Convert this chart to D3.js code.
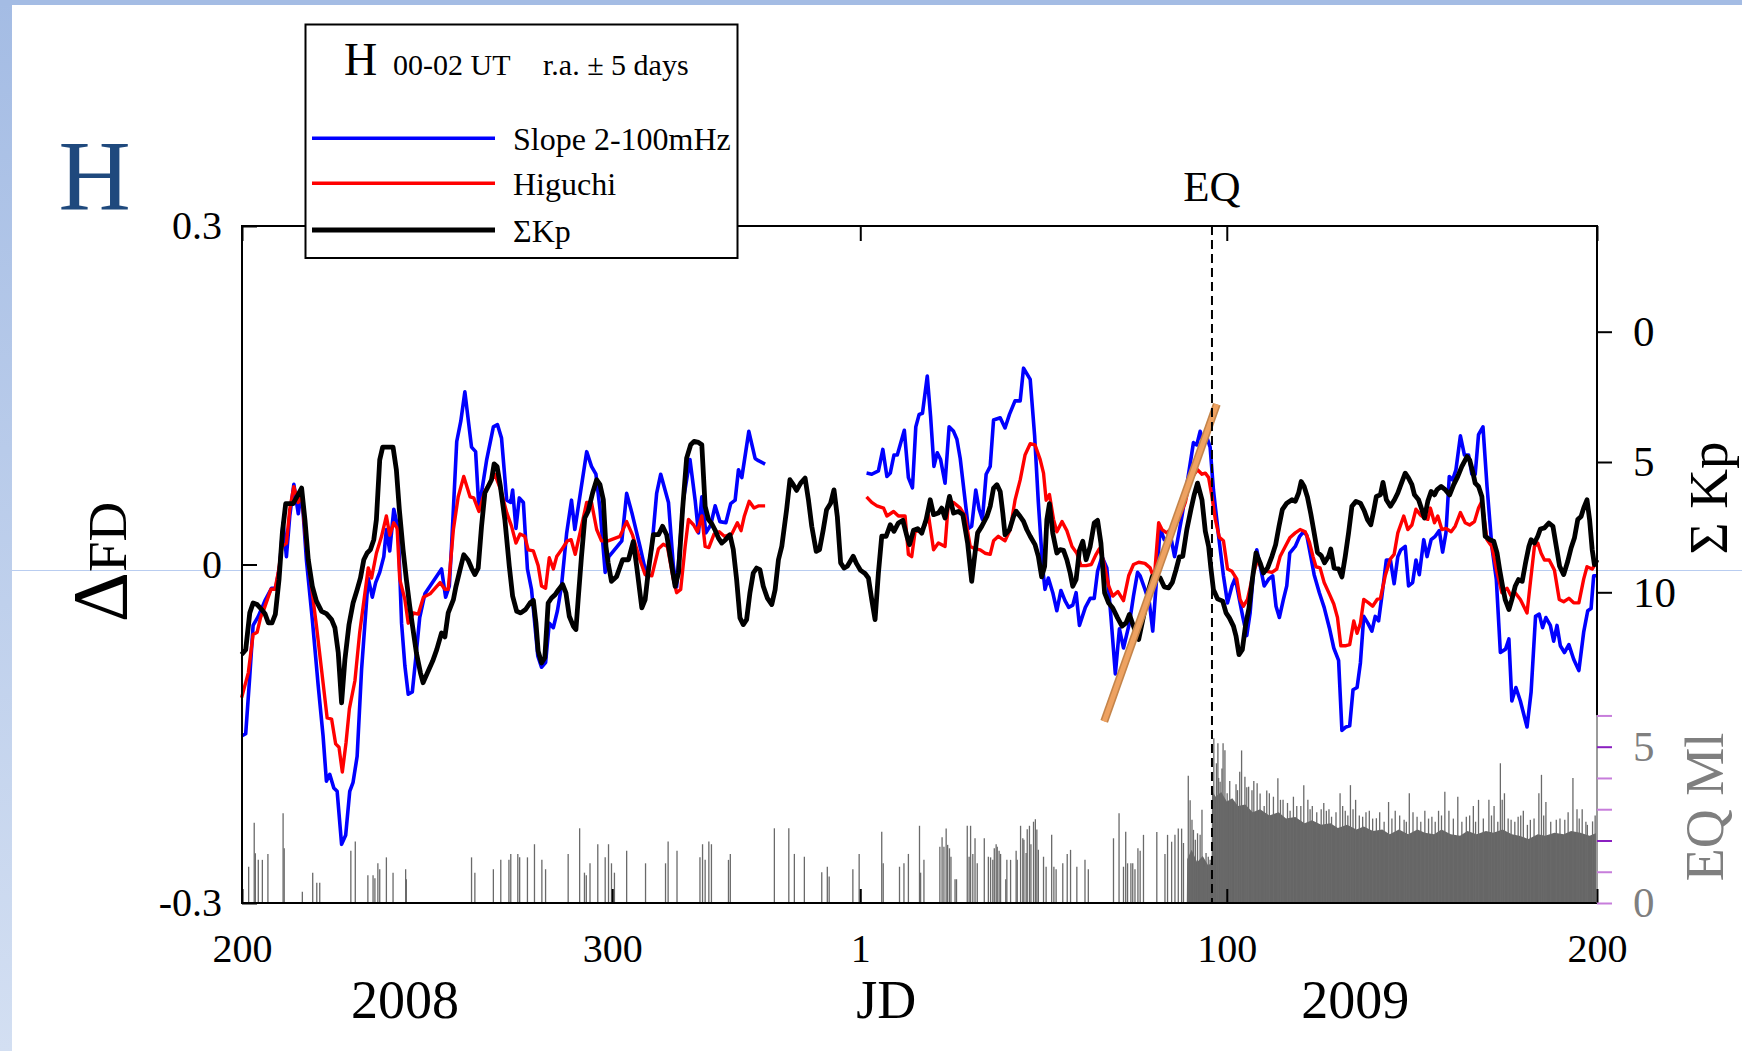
<!DOCTYPE html>
<html>
<head>
<meta charset="utf-8">
<script src="https://cdn.jsdelivr.net/npm/d3@7"></script>
<style>
  html, body { margin: 0; padding: 0; background: #fff; }
  svg { display: block; }
</style>
</head>
<body>
<script>
// day index counted from 1 Jan 2008 (leap year, so 2009 day d = 366 + d)
const xTickDays = [200, 300, 367, 466, 566];
const xTickLabels = ["200", "300", "1", "100", "200"];
const fdTicks = [0.3, 0, -0.3];
const kpTicks = [0, 5, 10];
const mlTicks = [0, 1, 2, 3, 4, 5, 6];
const eqDay = 462;

// Slope 2-100mHz (blue), ΔFD
const slope = [[199.9,-0.152],[201.0,-0.150],[202.1,-0.099],[203.0,-0.054],[204.4,-0.046],[206.2,-0.032],[208.0,-0.021],[209.1,-0.021],[210.2,-0.001],[211.1,0.037],[212.0,0.007],[212.9,0.043],[214.0,0.071],[215.2,0.045],[216.1,0.065],[217.4,0.004],[219.0,-0.049],[220.6,-0.108],[221.9,-0.152],[222.8,-0.192],[223.7,-0.186],[224.8,-0.198],[225.7,-0.201],[226.9,-0.248],[228.0,-0.240],[229.1,-0.201],[230.0,-0.193],[231.1,-0.170],[232.3,-0.093],[234.1,-0.012],[235.2,-0.029],[236.1,-0.016],[237.2,-0.007],[238.3,0.007],[239.0,0.031],[239.9,0.012],[241.0,0.049],[242.2,0.031],[243.1,-0.052],[244.0,-0.090],[244.9,-0.115],[246.0,-0.113],[247.0,-0.081],[248.0,-0.047],[249.4,-0.026],[253.9,-0.004],[255.0,-0.029],[256.0,-0.019],[256.6,0.016],[258.0,0.109],[259.1,0.127],[260.2,0.153],[262.0,0.104],[263.1,0.100],[264.0,0.049],[266.1,0.093],[267.9,0.122],[269.0,0.124],[270.1,0.112],[271.5,0.057],[272.6,0.055],[273.1,0.066],[274.0,0.032],[274.9,0.059],[276.0,0.055],[277.1,-0.004],[278.2,-0.022],[279.9,-0.081],[280.9,-0.091],[282.0,-0.087],[283.0,-0.052],[284.1,-0.056],[285.2,-0.041],[286.3,-0.019],[287.7,0.028],[289.0,0.057],[289.9,0.031],[293.1,0.100],[294.4,0.087],[295.6,0.080],[296.7,0.049],[298.1,-0.007],[299.1,0.007],[302.6,0.021],[303.9,0.063],[305.3,0.046],[307.5,0.016],[309.3,-0.010],[310.7,0.015],[312.0,0.063],[313.1,0.080],[315.2,0.055],[316.5,-0.001],[317.4,-0.020],[319.2,0.057],[321.0,0.093],[322.4,0.057],[323.3,0.028],[324.2,0.060],[325.3,0.028],[326.6,0.035],[327.8,0.052],[329.1,0.038],[330.7,0.037],[332.0,0.054],[333.2,0.057],[334.1,0.084],[335.0,0.077],[336.9,0.118],[338.6,0.094],[339.5,0.092],[341.3,0.089],
  null,
  [368.7,0.081],[370.1,0.080],[371.9,0.083],[373.1,0.102],[374.2,0.078],[375.1,0.081],[376.1,0.097],[377.0,0.097],[378.9,0.119],[380.0,0.077],[381.1,0.068],[382.0,0.122],[382.9,0.133],[383.8,0.134],[385.1,0.167],[386.0,0.131],[386.9,0.087],[387.8,0.099],[388.7,0.093],[389.9,0.072],[391.0,0.122],[392.2,0.118],[393.1,0.111],[394.0,0.094],[396.2,0.032],[397.1,0.034],[398.2,0.066],[399.1,0.049],[400.0,0.040],[401.0,0.080],[402.1,0.087],[403.0,0.128],[404.8,0.130],[406.1,0.121],[407.3,0.133],[408.8,0.145],[410.2,0.145],[411.1,0.174],[412.9,0.164],[414.1,0.114],[415.1,0.055],[416.3,-0.004],[416.9,-0.022],[417.8,-0.012],[419.0,-0.025],[420.1,-0.041],[421.2,-0.023],[422.3,-0.032],[423.3,-0.038],[424.4,-0.036],[425.3,-0.025],[426.2,-0.054],[427.8,-0.038],[429.1,-0.030],[430.2,-0.030],[431.1,-0.006],[432.3,0.007],[433.6,-0.003],[434.7,-0.046],[435.9,-0.097],[437.0,-0.057],[438.1,-0.074],[439.7,-0.052],[440.8,-0.028],[441.9,-0.007],[442.6,-0.010],[443.9,-0.022],[445.1,-0.034],[446.0,-0.059],[446.9,-0.019],[448.0,0.032],[449.1,0.022],[450.9,0.024],[451.9,0.007],[453.9,0.043],[457.0,0.108],[457.9,0.106],[458.8,0.118],[459.7,0.108],[460.6,0.113],[461.5,0.104],[462.4,0.066],[463.8,0.025],[465.1,-0.010],[466.2,-0.034],[467.4,-0.019],[468.3,-0.012],[469.4,-0.031],[470.3,-0.046],[471.4,-0.063],[472.3,-0.043],[473.2,-0.007],[474.1,0.013],[475.0,-0.001],[476.1,-0.019],[477.3,-0.013],[478.4,-0.010],[479.3,-0.037],[480.2,-0.047],[481.3,-0.031],[482.2,-0.019],[483.0,0.010],[484.5,0.016],[485.7,0.025],[486.7,0.029],[487.6,0.026],[488.7,0.007],[489.6,-0.009],[491.0,-0.025],[492.3,-0.038],[493.7,-0.056],[494.9,-0.074],[496.2,-0.085],[497.1,-0.147],[498.2,-0.144],[499.2,-0.143],[500.1,-0.111],[501.2,-0.109],[502.1,-0.087],[503.0,-0.046],[504.1,-0.052],[505.2,-0.059],[506.1,-0.046],[507.0,-0.050],[507.9,-0.028],[509.1,0.004],[510.2,0.004],[511.2,-0.017],[512.2,0.007],[513.0,0.013],[514.2,0.016],[515.1,-0.019],[516.2,-0.016],[517.1,0.004],[518.0,-0.009],[519.2,0.022],[520.1,0.007],[521.2,0.022],[522.3,0.025],[523.4,0.030],[524.3,0.011],[525.2,0.028],[526.1,0.078],[527.0,0.075],[527.9,0.084],[529.1,0.114],[530.2,0.097],[531.3,0.097],[532.2,0.080],[533.1,0.080],[534.0,0.115],[535.2,0.122],[536.3,0.069],[537.6,0.016],[538.8,-0.013],[539.9,-0.078],[541.3,-0.075],[542.2,-0.066],[543.0,-0.121],[544.1,-0.109],[545.3,-0.121],[547.1,-0.144],[548.2,-0.113],[549.4,-0.046],[550.4,-0.044],[551.3,-0.056],[552.2,-0.047],[553.4,-0.054],[554.3,-0.068],[555.2,-0.054],[556.1,-0.072],[557.2,-0.078],[558.4,-0.071],[559.7,-0.084],[561.1,-0.094],[562.4,-0.060],[563.5,-0.041],[564.4,-0.039],[565.1,-0.010],[566.0,-0.010]];

// Higuchi (red), ΔFD
const higuchi = [[199.9,-0.118],[201.7,-0.096],[203.0,-0.062],[204.1,-0.060],[205.0,-0.047],[205.9,-0.040],[207.8,-0.022],[208.9,-0.022],[209.8,-0.007],[210.8,0.016],[212.0,0.019],[212.9,0.049],[214.0,0.069],[215.2,0.055],[216.1,0.062],[217.4,0.016],[220.1,-0.054],[223.0,-0.136],[224.2,-0.137],[225.3,-0.159],[226.2,-0.162],[227.1,-0.184],[228.1,-0.158],[229.0,-0.128],[230.5,-0.103],[231.8,-0.060],[234.1,-0.003],[235.0,-0.012],[236.3,0.010],[237.7,0.025],[239.0,0.043],[239.9,0.026],[241.0,0.037],[241.9,0.032],[242.6,-0.013],[244.0,-0.031],[244.9,-0.052],[246.3,-0.043],[247.6,-0.044],[249.0,-0.029],[250.8,-0.026],[253.5,-0.016],[254.8,-0.022],[255.7,-0.022],[257.1,0.031],[258.4,0.060],[259.9,0.078],[261.6,0.060],[262.6,0.059],[264.0,0.047],[265.6,0.065],[268.3,0.080],[269.9,0.066],[271.5,0.046],[272.8,0.034],[274.0,0.019],[275.1,0.027],[276.4,0.025],[277.3,0.013],[278.7,0.012],[280.0,-0.001],[280.9,-0.019],[282.0,-0.021],[283.0,0.006],[284.1,-0.004],[285.0,0.007],[286.3,0.013],[287.9,0.021],[288.9,0.022],[290.0,0.009],[291.3,0.028],[293.1,0.055],[294.4,0.055],[295.8,0.031],[297.1,0.021],[298.9,0.021],[302.1,0.025],[303.9,0.038],[305.5,0.026],[307.5,0.004],[308.9,-0.009],[310.7,-0.010],[312.5,0.014],[313.8,0.018],[314.9,0.016],[316.5,-0.013],[317.4,-0.025],[318.5,-0.022],[319.7,0.016],[320.6,0.040],[322.0,0.035],[323.0,0.029],[324.2,0.043],[325.1,0.016],[326.1,0.015],[327.5,0.027],[328.9,0.029],[330.3,0.025],[332.3,0.027],[333.8,0.037],[334.8,0.030],[335.7,0.043],[337.0,0.056],[338.3,0.050],[339.6,0.052],[341.3,0.052],
  null,
  [368.7,0.060],[370.1,0.055],[371.5,0.052],[373.3,0.050],[374.2,0.043],[376.0,0.047],[377.3,0.043],[379.1,0.043],[380.0,0.009],[380.9,0.007],[381.8,0.029],[383.6,0.031],[384.5,0.035],[385.4,0.044],[386.8,0.013],[388.1,0.019],[389.9,0.016],[390.8,0.055],[392.2,0.055],[394.0,0.050],[395.3,0.043],[396.7,0.016],[398.0,0.014],[399.4,0.013],[400.7,0.010],[402.1,0.009],[403.0,0.021],[404.3,0.025],[406.1,0.021],[407.5,0.031],[408.8,0.057],[410.2,0.075],[411.5,0.097],[412.9,0.107],[414.2,0.106],[415.6,0.093],[416.5,0.081],[417.2,0.057],[418.1,0.062],[419.2,0.040],[420.1,0.029],[421.5,0.038],[422.8,0.030],[424.2,0.016],[425.5,0.010],[426.6,-0.001],[428.0,-0.001],[429.4,0.000],[430.7,0.009],[431.6,0.014],[432.7,0.003],[434.1,-0.019],[435.2,-0.028],[436.6,-0.024],[438.1,-0.032],[439.5,-0.010],[440.8,0.000],[442.2,0.002],[443.9,0.001],[445.3,-0.003],[446.4,-0.013],[447.6,0.037],[448.5,0.031],[449.8,0.028],[451.6,0.034],[453.0,0.040],[454.8,0.055],[456.1,0.075],[457.2,0.080],[458.1,0.084],[459.3,0.080],[460.2,0.081],[461.1,0.077],[462.0,0.060],[462.9,0.040],[464.0,0.024],[465.1,0.021],[466.2,-0.004],[467.4,-0.006],[468.7,-0.013],[469.6,-0.031],[470.5,-0.037],[471.6,-0.031],[473.0,-0.010],[474.3,0.004],[475.5,-0.004],[476.8,-0.006],[478.2,-0.007],[479.5,-0.004],[480.4,0.007],[481.8,0.016],[483.1,0.024],[484.5,0.028],[485.8,0.031],[487.2,0.029],[488.3,0.020],[489.3,0.007],[490.1,-0.002],[491.2,-0.003],[492.3,-0.016],[493.7,-0.026],[494.9,-0.035],[495.9,-0.047],[496.8,-0.072],[498.2,-0.072],[499.2,-0.071],[500.3,-0.050],[501.2,-0.061],[502.1,-0.052],[503.0,-0.031],[504.3,-0.034],[505.4,-0.037],[506.6,-0.031],[507.5,-0.030],[508.8,-0.010],[510.2,0.005],[511.2,0.009],[512.2,0.028],[513.8,0.043],[514.9,0.031],[516.0,0.035],[517.1,0.049],[518.3,0.044],[519.4,0.041],[520.3,0.040],[521.0,0.050],[522.1,0.037],[523.0,0.043],[524.1,0.031],[525.2,0.032],[526.6,0.029],[527.7,0.034],[529.1,0.046],[530.4,0.037],[531.6,0.035],[532.9,0.038],[534.0,0.050],[534.9,0.056],[536.3,0.022],[537.6,0.016],[539.0,-0.007],[540.3,-0.025],[541.7,-0.021],[542.8,-0.028],[543.9,-0.025],[545.3,-0.031],[547.1,-0.043],[548.0,-0.016],[549.1,0.016],[550.0,0.019],[550.9,0.010],[551.8,0.004],[553.1,0.004],[554.5,-0.005],[555.8,-0.031],[557.0,-0.033],[558.4,-0.030],[559.7,-0.034],[561.1,-0.034],[562.4,-0.013],[563.3,-0.002],[564.7,-0.004],[566.0,0.003]];

// ΣKp (black), right inverted axis
const sumKp = [[199.9,12.39],[201.0,12.20],[202.1,10.79],[203.0,10.41],[204.1,10.47],[205.3,10.66],[206.2,10.82],[207.1,11.17],[208.1,11.17],[209.0,10.85],[210.0,9.51],[210.9,7.72],[211.8,6.60],[213.8,6.60],[214.9,6.32],[216.1,6.00],[217.0,7.22],[217.9,8.75],[219.0,9.77],[220.1,10.34],[221.5,10.73],[222.8,10.82],[224.2,11.05],[225.1,11.36],[226.0,12.32],[226.9,14.24],[227.8,12.58],[228.9,11.24],[230.0,10.41],[231.1,9.90],[232.0,9.45],[232.9,8.75],[233.8,8.49],[234.7,8.36],[235.6,7.98],[236.3,7.21],[237.2,4.92],[238.0,4.43],[240.8,4.43],[241.7,5.30],[242.5,6.83],[243.5,8.36],[244.4,9.51],[245.3,10.53],[246.2,11.43],[247.1,12.32],[248.2,13.09],[248.9,13.47],[250.3,13.02],[251.5,12.64],[252.6,12.20],[253.9,11.56],[254.8,11.71],[255.7,10.79],[257.1,10.28],[257.8,9.77],[258.9,9.13],[259.9,8.56],[261.1,8.77],[262.0,9.07],[262.9,9.32],[263.8,9.07],[264.7,7.47],[265.6,6.19],[266.5,5.94],[267.4,5.68],[268.1,5.07],[268.9,5.17],[269.8,5.94],[271.0,7.21],[272.2,9.00],[273.1,10.15],[274.2,10.73],[275.3,10.79],[276.6,10.66],[277.8,10.41],[278.7,10.31],[279.4,11.17],[280.0,12.26],[280.9,12.71],[281.8,12.51],[282.7,10.41],[283.6,10.22],[284.6,10.09],[285.5,9.90],[286.6,9.70],[287.5,10.02],[288.4,10.92],[289.5,11.30],[290.2,11.43],[290.8,10.28],[291.7,8.62],[292.6,7.15],[293.5,6.89],[294.7,6.19],[295.8,5.68],[296.7,5.87],[297.6,6.45],[298.3,8.24],[298.9,8.87],[299.8,9.58],[301.2,9.39],[302.8,8.75],[304.4,8.75],[305.7,8.05],[306.6,9.00],[308.0,10.60],[308.9,10.28],[309.8,9.13],[311.1,7.79],[312.5,7.79],[313.6,7.47],[314.7,7.79],[315.8,8.75],[317.0,9.77],[317.9,9.26],[319.0,6.83],[320.1,4.85],[321.2,4.34],[322.1,4.21],[323.3,4.25],[324.2,4.34],[325.1,6.70],[326.0,7.21],[326.9,7.37],[327.8,7.62],[328.7,7.92],[329.6,8.11],[330.6,7.98],[331.8,7.79],[332.7,8.36],[333.6,9.51],[334.5,10.98],[335.4,11.24],[336.3,11.05],[337.2,10.02],[338.1,9.26],[339.0,9.07],[339.9,9.13],[340.8,9.77],[341.9,10.22],[343.1,10.47],[344.0,9.90],[344.9,8.75],[345.8,8.24],[347.1,6.83],[348.0,5.68],[348.9,5.87],[349.8,6.09],[350.9,5.81],[352.1,5.62],[353.0,6.45],[353.9,7.47],[355.1,8.43],[356.0,8.36],[357.0,7.60],[357.9,6.83],[359.0,6.58],[359.9,6.07],[360.8,7.09],[361.7,8.87],[362.6,9.07],[363.5,9.00],[365.1,8.62],[366.0,8.90],[367.1,9.16],[368.3,9.28],[369.2,9.45],[370.1,10.28],[371.0,11.05],[371.9,9.26],[372.8,7.85],[374.0,7.85],[375.1,7.41],[376.1,7.66],[377.3,7.34],[378.5,7.24],[379.6,7.85],[380.3,8.17],[381.4,7.62],[382.5,7.56],[383.6,7.73],[384.8,7.21],[385.9,6.45],[386.8,7.02],[388.1,6.96],[389.0,6.77],[389.9,7.15],[391.1,6.32],[392.2,6.96],[393.5,6.90],[394.7,7.02],[396.0,8.11],[397.1,9.58],[398.0,8.49],[398.7,7.72],[399.8,7.47],[401.2,7.09],[402.1,6.70],[403.0,6.00],[403.9,5.87],[404.8,6.13],[405.5,6.96],[406.1,7.79],[407.3,7.60],[408.4,7.09],[409.1,6.89],[410.2,7.09],[411.1,7.28],[412.0,7.60],[412.9,7.85],[414.2,8.17],[415.1,8.62],[416.0,9.41],[416.8,9.00],[417.4,7.21],[418.1,6.60],[419.0,7.73],[420.1,8.49],[421.0,8.36],[421.9,8.39],[422.8,8.75],[423.7,9.26],[424.4,9.77],[425.3,9.51],[426.2,8.39],[427.1,8.04],[428.0,8.75],[429.1,8.24],[430.2,7.34],[431.1,7.24],[432.0,8.11],[433.0,10.02],[434.1,10.41],[435.2,10.60],[436.5,10.98],[437.7,11.30],[438.8,11.17],[439.7,10.85],[440.8,11.30],[442.2,11.81],[443.7,10.79],[444.9,9.90],[445.9,9.39],[446.9,9.45],[448.0,9.45],[449.1,9.79],[450.3,9.83],[451.3,9.62],[452.3,9.13],[453.2,8.64],[454.1,8.62],[455.2,7.60],[456.3,6.83],[457.2,6.26],[458.1,5.81],[459.3,6.45],[460.2,7.66],[461.1,8.24],[461.7,9.07],[462.4,9.90],[463.5,10.25],[464.9,10.34],[465.8,10.79],[466.7,10.98],[467.8,11.30],[468.5,11.68],[469.3,12.39],[470.2,12.20],[471.1,11.24],[472.0,10.60],[472.9,9.51],[473.9,8.49],[475.0,8.87],[475.9,9.26],[477.0,9.07],[478.2,8.62],[479.2,8.17],[480.1,7.47],[481.0,6.83],[482.2,6.58],[483.6,6.45],[484.5,6.51],[485.4,6.19],[486.1,5.75],[486.9,5.94],[487.8,6.35],[488.7,6.99],[489.6,7.72],[490.5,8.47],[491.5,8.59],[492.4,8.87],[493.5,8.62],[494.1,8.34],[495.0,9.07],[496.2,9.10],[497.1,9.41],[498.0,8.62],[498.9,7.72],[499.8,6.70],[500.9,6.51],[502.1,6.58],[503.1,6.86],[504.0,7.21],[504.9,7.41],[505.7,6.86],[506.4,6.32],[507.5,6.26],[508.2,5.78],[509.1,6.45],[510.2,6.70],[511.3,6.45],[512.2,6.19],[513.1,5.84],[514.2,5.43],[515.1,5.62],[516.0,5.87],[516.7,6.26],[517.8,6.45],[518.7,6.83],[519.4,7.15],[520.3,6.51],[521.2,6.13],[522.1,6.26],[522.8,6.06],[523.9,5.94],[525.0,6.06],[526.2,6.26],[527.3,5.87],[528.4,5.55],[529.5,5.17],[530.9,4.79],[531.6,4.92],[532.4,5.36],[533.1,5.81],[534.0,5.94],[534.9,6.32],[535.8,7.85],[537.0,7.98],[538.1,8.04],[539.0,8.49],[539.7,9.13],[540.5,9.77],[541.2,10.28],[542.2,10.66],[543.0,10.28],[543.9,9.77],[544.8,9.51],[545.8,9.58],[546.7,8.87],[547.6,8.24],[548.2,7.98],[549.1,8.11],[550.0,7.85],[550.7,7.57],[551.8,7.53],[553.0,7.34],[554.1,7.47],[555.0,8.24],[555.9,9.00],[557.0,9.32],[558.1,8.81],[559.0,8.30],[559.9,7.92],[560.8,7.21],[561.7,7.09],[562.4,6.77],[563.3,6.45],[564.0,7.21],[564.7,8.36],[565.3,8.94],[566.0,8.75]];

// pre-earthquake linear trend (orange)
const trend = [[432.9,-0.139],[463.3,0.142]];

// earthquake magnitudes Ml: isolated events
const eqSparse = [[201.8,1.16],[203.3,2.57],[203.6,1.59],[204.4,1.38],[205.5,1.38],[207.0,1.57],[211.1,2.87],[211.4,1.75],[216.3,0.36],[219.1,0.97],[220.2,0.65],[221.0,0.65],[229.4,1.67],[230.6,1.97],[234.0,0.89],[235.4,0.89],[235.9,0.79],[236.7,1.27],[237.2,1.08],[239.0,1.46],[240.8,0.97],[244.2,1.08],[244.4,0.76],[262.0,1.46],[262.9,0.97],[267.9,1.08],[269.9,1.38],[272.1,1.38],[272.6,1.57],[274.5,1.57],[275.0,1.46],[277.1,1.46],[279.0,1.88],[281.0,1.38],[282.0,1.08],[288.1,1.57],[291.2,2.39],[292.5,0.97],[293.0,0.89],[294.0,1.27],[296.1,1.88],[298.1,1.46],[299.0,1.88],[299.8,1.27],[300.6,0.97],[303.9,1.67],[309.0,1.27],[314.4,1.27],[315.1,1.97],[317.5,1.67],[323.7,1.46],[324.4,1.88],[325.1,1.38],[326.1,1.97],[326.8,1.88],[331.4,1.38],[331.9,1.57],[343.8,2.39],[347.7,2.39],[349.2,1.57],[351.9,1.48],[356.6,0.98],[358.1,1.16],[358.6,0.85],[365.0,1.08],[366.7,1.57],[372.8,2.28],[373.2,1.27],[377.6,1.16],[378.8,1.27],[380.0,1.57],[383.0,2.47],[383.3,0.97],[384.2,1.38],[388.5,1.80],[389.1,2.10],[389.6,1.80],[390.2,2.38],[390.6,1.86],[391.1,1.75],[391.5,1.48],[392.6,0.76],[393.0,0.76],[395.9,2.47],[396.4,1.48],[396.8,2.47],[397.4,1.57],[398.0,2.07],[398.6,1.27],[400.5,2.07],[401.6,1.48],[402.2,1.46],[402.8,1.38],[403.2,1.75],[403.7,1.88],[404.0,1.80],[404.5,1.67],[404.9,1.57],[406.3,0.76],[406.6,1.38],[407.6,1.38],[409.1,1.67],[409.4,1.38],[410.3,2.47],[410.9,2.07],[411.2,2.02],[411.8,1.60],[412.1,2.36],[412.7,2.47],[413.1,1.88],[413.8,2.60],[414.3,2.68],[414.7,2.35],[415.1,1.70],[416.5,1.48],[417.2,1.16],[418.7,2.18],[419.3,1.16],[419.9,1.08],[421.7,1.27],[422.9,1.57],[423.8,1.70],[425.5,1.16],[427.7,1.38],[428.6,1.08],[435.4,2.07],[436.9,2.87],[438.1,1.16],[438.7,2.28],[439.2,1.27],[440.1,1.27],[440.6,1.27],[441.2,1.08],[442.0,1.75],[442.6,1.67],[443.5,2.18],[447.1,2.27],[449.3,1.57],[450.0,2.18],[451.1,1.96],[452.0,2.18],[452.9,2.38],[453.8,2.38],[454.3,1.92],[455.6,4.07],[456.1,3.29],[456.6,2.66],[457.0,2.34],[457.5,2.02],[458.1,2.23],[458.8,2.18],[459.3,2.98],[459.9,1.16],[460.4,1.60],[461.0,1.48],[461.5,1.38]];

// dense swarm: solid envelope of the bars
const eqFloor = [[455.2,0],[455.3,1.4],[456.5,1.7],[458.0,1.3],[459.5,1.5],[461.0,1.2],[461.9,1.3],[462.0,3.6],[463.0,3.4],[464.5,3.55],[466.0,3.25],[467.5,3.35],[469.0,3.1],[471.0,3.15],[473.0,2.9],[475.0,3.0],[477.5,2.8],[480.0,2.9],[482.0,2.7],[484.5,2.75],[487.0,2.55],[489.0,2.65],[491.5,2.5],[494.0,2.55],[496.0,2.4],[498.5,2.5],[501.0,2.35],[503.0,2.45],[505.5,2.3],[508.0,2.35],[510.0,2.2],[512.5,2.35],[515.0,2.2],[517.5,2.35],[519.5,2.25],[522.0,2.2],[524.0,2.35],[526.5,2.2],[529.0,2.15],[531.0,2.3],[533.5,2.2],[536.0,2.3],[538.0,2.25],[540.5,2.35],[543.0,2.2],[545.0,2.15],[547.5,2.05],[550.0,2.2],[552.0,2.15],[554.5,2.25],[557.0,2.2],[559.0,2.3],[561.5,2.25],[564.0,2.15],[566.0,2.25],[566.0,0]];

// dense swarm: individual tall events
const eqSpikes = [[462.5,5.27],[463.2,4.47],[463.6,5.11],[463.8,4.0],[464.2,3.88],[464.7,4.3],[465.0,5.11],[465.5,4.89],[466.1,3.51],[466.8,3.9],[467.2,3.30],[468.1,3.23],[468.5,3.8],[468.9,3.61],[469.5,4.2],[470.0,4.88],[470.9,4.04],[471.4,3.7],[471.9,3.72],[472.8,3.61],[473.3,3.9],[474.2,3.83],[475.0,3.5],[476.1,3.10],[476.8,3.6],[477.5,3.51],[478.6,3.4],[479.8,3.99],[480.5,3.3],[481.2,3.30],[482.4,3.2],[483.1,2.95],[484.0,3.4],[484.9,3.10],[486.0,3.1],[486.8,3.77],[487.9,3.30],[488.5,3.0],[489.1,3.10],[490.3,2.9],[491.5,3.00],[492.2,3.2],[492.9,2.95],[493.6,3.0],[494.3,2.76],[495.5,2.9],[496.6,3.51],[497.3,3.1],[498.0,2.95],[498.7,2.8],[499.4,3.77],[500.1,3.0],[500.8,3.30],[501.8,2.8],[502.7,2.76],[503.6,2.9],[504.5,2.95],[505.4,2.7],[506.4,2.71],[507.3,2.9],[508.5,2.6],[509.7,3.23],[510.6,2.7],[511.5,2.95],[512.7,2.8],[513.9,2.66],[514.5,2.6],[515.3,3.51],[516.3,2.9],[517.4,2.76],[518.4,2.6],[519.5,2.95],[520.5,2.7],[521.4,2.76],[522.3,2.6],[523.2,2.95],[524.0,2.8],[524.9,3.56],[526.0,2.95],[527.2,2.7],[528.4,3.40],[529.5,2.6],[530.7,2.76],[531.6,2.8],[532.6,3.10],[533.2,2.6],[534.0,3.30],[535.3,2.7],[536.8,3.30],[537.5,2.8],[538.2,3.10],[539.2,2.6],[539.9,4.47],[540.4,3.3],[541.0,3.51],[542.0,2.7],[542.8,2.66],[543.8,2.6],[544.7,2.76],[545.4,2.8],[546.1,2.95],[547.2,2.5],[548.0,2.66],[549.0,2.7],[550.3,3.51],[551.0,4.10],[551.6,2.8],[552.2,3.23],[553.5,2.6],[555.0,2.66],[556.0,2.7],[557.3,2.66],[558.2,2.9],[559.5,4.00],[560.6,3.00],[561.2,2.7],[562.0,3.00],[563.0,2.6],[563.4,2.50],[564.8,2.61],[565.5,2.8]];

const legendItems = [
  {label: "Slope 2-100mHz", color: "#0000ff", width: 3.4},
  {label: "Higuchi", color: "#ff0000", width: 3.4},
  {label: "\u03a3Kp", color: "#000000", width: 4.8}
];

const serif = "'Liberation Serif', 'Times New Roman', serif";

const x = d3.scaleLinear().domain([200, 566]).range([242, 1597]);
const yFD = d3.scaleLinear().domain([-0.3, 0.3]).range([903, 226]);
const yKp = d3.scaleLinear().domain([0, 10]).range([331.7, 592.3]);
const yMl = d3.scaleLinear().domain([0, 5]).range([903, 746.7]);

const svg = d3.select("body").append("svg")
    .attr("width", 1742)
    .attr("height", 1051)
    .style("font-family", serif);

// slide decoration
const grad = svg.append("defs").append("linearGradient")
    .attr("id", "edge").attr("x1", 0).attr("y1", 0).attr("x2", 0).attr("y2", 1);
grad.append("stop").attr("offset", 0).attr("stop-color", "#a4bce4");
grad.append("stop").attr("offset", 1).attr("stop-color", "#d3dff2");
svg.append("rect").attr("x", 0).attr("y", 0).attr("width", 1742).attr("height", 1051).attr("fill", "#fff");
svg.append("rect").attr("x", 0).attr("y", 0).attr("width", 12).attr("height", 1051).attr("fill", "url(#edge)");
svg.append("rect").attr("x", 0).attr("y", 0).attr("width", 1742).attr("height", 5).attr("fill", "#a4bce4");
svg.append("line").attr("x1", 12).attr("x2", 1742).attr("y1", 570.5).attr("y2", 570.5)
    .attr("stroke", "#b9cdf0").attr("stroke-width", 1);

svg.append("text").attr("x", 94.5).attr("y", 209).attr("text-anchor", "middle")
    .attr("font-size", 100).attr("fill", "#1f497d").text("H");

// earthquake bars
const barG = svg.append("g");
barG.append("path").datum(eqFloor)
    .attr("fill", "#666")
    .attr("d", d3.area().x(d => x(d[0])).y0(yMl(0)).y1(d => yMl(d[1])));
barG.selectAll("line.ev").data(eqSparse.concat(eqSpikes)).enter().append("line")
    .attr("class", "ev")
    .attr("x1", d => x(d[0])).attr("x2", d => x(d[0]))
    .attr("y1", yMl(0)).attr("y2", d => yMl(d[1]))
    .attr("stroke", "#6a6a6a").attr("stroke-width", 1.3);

// curves
const fdLine = d3.line().defined(d => d !== null).x(d => x(d[0])).y(d => yFD(d[1]));
const kpLine = d3.line().x(d => x(d[0])).y(d => yKp(d[1]));

svg.append("path").datum(slope).attr("d", fdLine)
    .attr("fill", "none").attr("stroke", "#0000ff").attr("stroke-width", 3.6).attr("stroke-linejoin", "round");
svg.append("path").datum(higuchi).attr("d", fdLine)
    .attr("fill", "none").attr("stroke", "#ff0000").attr("stroke-width", 3.4).attr("stroke-linejoin", "round");
svg.append("path").datum(sumKp).attr("d", kpLine)
    .attr("fill", "none").attr("stroke", "#000").attr("stroke-width", 4.8).attr("stroke-linejoin", "round");

svg.append("path").datum(trend).attr("d", fdLine)
    .attr("fill", "none").attr("stroke", "#c4844a").attr("stroke-width", 8);
svg.append("path").datum(trend).attr("d", fdLine)
    .attr("fill", "none").attr("stroke", "#eea261").attr("stroke-width", 4.8);

// earthquake day marker
svg.append("line")
    .attr("x1", x(eqDay)).attr("x2", x(eqDay)).attr("y1", 226).attr("y2", 903)
    .attr("stroke", "#000").attr("stroke-width", 2).attr("stroke-dasharray", "9,5");
svg.append("text").attr("x", x(eqDay)).attr("y", 201).attr("text-anchor", "middle")
    .attr("font-size", 43).text("EQ");

// frame
const frame = svg.append("g").attr("stroke", "#000").attr("stroke-width", 2).attr("fill", "none");
frame.append("line").attr("x1", 242).attr("x2", 242).attr("y1", 225).attr("y2", 904);
frame.append("line").attr("x1", 241).attr("x2", 1598).attr("y1", 226).attr("y2", 226);
frame.append("line").attr("x1", 241).attr("x2", 1598).attr("y1", 903).attr("y2", 903);
frame.append("line").attr("x1", 1597).attr("x2", 1597).attr("y1", 225).attr("y2", yMl(6));
svg.append("line").attr("x1", 1597).attr("x2", 1597).attr("y1", yMl(6)).attr("y2", 903)
    .attr("stroke", "#9a9a9a").attr("stroke-width", 2);

function styleAxis(g, size) {
  g.select(".domain").remove();
  g.attr("font-family", serif).attr("font-size", size);
  g.selectAll(".tick line").attr("stroke-width", 2);
}

svg.append("g").attr("transform", "translate(242,0)")
    .call(d3.axisLeft(yFD).tickValues(fdTicks).tickSize(-15).tickPadding(20).tickFormat(d => String(d)))
    .call(g => styleAxis(g, 40));

svg.append("g").attr("transform", "translate(0,903)")
    .call(d3.axisBottom(x).tickValues(xTickDays).tickSize(-14).tickPadding(31).tickFormat((d, i) => xTickLabels[i]))
    .call(g => styleAxis(g, 40));

svg.append("g").attr("transform", "translate(0,226)")
    .call(d3.axisTop(x).tickValues(xTickDays).tickSize(-15).tickFormat(""))
    .call(g => styleAxis(g, 40));

svg.append("g").attr("transform", "translate(1597,0)")
    .call(d3.axisRight(yKp).tickValues(kpTicks).tickSize(15).tickPadding(21))
    .call(g => styleAxis(g, 43));

svg.append("g").attr("transform", "translate(1597,0)")
    .call(d3.axisRight(yMl).tickValues(mlTicks).tickSize(15).tickPadding(21).tickFormat(d => d % 5 === 0 ? d : ""))
    .call(g => styleAxis(g, 43))
    .call(g => g.selectAll(".tick line").attr("stroke", d => (d === 5 || d === 2) ? "#8a1fc0" : "#c77ddb"))
    .call(g => g.selectAll(".tick text").attr("fill", "#7f7f7f"));

// axis titles
const yearLabels = [{t: 244, s: "2008"}, {t: 374, s: "JD"}, {t: 500.7, s: "2009"}];
svg.selectAll("text.year").data(yearLabels).enter().append("text")
    .attr("class", "year")
    .attr("x", d => x(d.t)).attr("y", 1018).attr("text-anchor", "middle")
    .attr("font-size", 54).text(d => d.s);

const fdTitle = svg.append("text").attr("transform", "translate(126,562) rotate(-90)")
    .attr("text-anchor", "middle");
fdTitle.append("tspan").attr("font-size", 78).text("\u0394");
fdTitle.append("tspan").attr("font-size", 55).text("FD");

svg.append("text").attr("transform", "translate(1727,498) rotate(-90)")
    .attr("text-anchor", "middle").attr("font-size", 55).text("\u03a3 Kp");
svg.append("text").attr("transform", "translate(1723,807) rotate(-90)")
    .attr("text-anchor", "middle").attr("font-size", 54).attr("fill", "#7f7f7f").text("EQ Ml");

// legend
const lg = svg.append("g");
lg.append("rect").attr("x", 305.5).attr("y", 24.5).attr("width", 432).attr("height", 233.5)
    .attr("fill", "#fff").attr("stroke", "#000").attr("stroke-width", 2);
lg.append("text").attr("x", 344).attr("y", 75).attr("font-size", 46).text("H");
lg.append("text").attr("x", 393).attr("y", 75).attr("font-size", 30).text("00-02 UT");
lg.append("text").attr("x", 543).attr("y", 75).attr("font-size", 30).text("r.a. \u00b1 5 days");
const rows = lg.selectAll("g.row").data(legendItems).enter().append("g")
    .attr("class", "row")
    .attr("transform", (d, i) => `translate(0,${[138.3, 183.3, 230][i]})`);
rows.append("line").attr("x1", 312).attr("x2", 495).attr("y1", 0).attr("y2", 0)
    .attr("stroke", d => d.color).attr("stroke-width", d => d.width);
rows.append("text").attr("x", 513).attr("y", 12).attr("font-size", 32).text(d => d.label);
</script>
</body>
</html>
